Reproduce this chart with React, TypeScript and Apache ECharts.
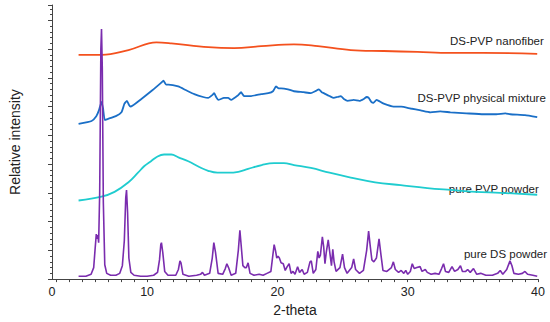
import React, { useEffect, useRef } from "react";
import * as echarts from "echarts";

// 2-theta (deg) and relative intensity (arbitrary units, offset per trace)
const nanofiber: [number, number][] = [
  [4.74, 234], [6.5, 234], [8.57, 239], [10.71, 247], [11.86, 246], [14.69, 242],
  [16.68, 241], [18.75, 243], [21.27, 245], [23.11, 243], [25.63, 239], [28.16, 238],
  [30.76, 237], [33.28, 236], [35.81, 236], [39.94, 235],
];

const physicalMixture: [number, number][] = [
  [4.74, 162], [5.74, 165], [6.1, 170], [6.3, 176], [6.5, 185], [6.62, 178], [6.75, 166],
  [6.96, 167], [7.6, 170], [8.03, 174], [8.26, 183], [8.45, 186], [8.6, 182], [8.72, 180],
  [9.56, 188], [10.4, 197], [11.09, 205], [11.25, 207], [11.45, 203], [11.63, 203],
  [12.39, 201], [13.0, 197], [13.62, 193], [14.3, 190], [14.69, 189], [15.0, 192],
  [15.15, 194], [15.3, 190], [15.46, 187], [15.9, 189], [16.22, 189], [16.45, 187],
  [17.0, 192], [17.21, 195], [17.44, 191], [17.98, 191], [18.75, 193], [19.3, 194],
  [19.66, 196], [19.89, 201], [20.1, 199], [20.28, 199], [20.81, 198], [21.27, 196],
  [22.0, 195], [22.57, 194], [22.9, 196], [23.18, 198], [23.4, 195], [23.56, 194],
  [24.0, 191], [24.33, 189], [24.6, 190], [24.87, 191], [25.1, 188], [25.4, 186],
  [25.86, 187], [26.3, 186], [26.63, 188], [26.85, 190], [27.01, 189], [27.2, 185],
  [27.39, 184], [27.6, 187], [27.77, 186], [28.16, 183], [28.92, 180], [29.5, 180],
  [30.22, 178], [31.0, 176], [31.75, 174], [32.5, 175], [33.28, 174], [34.5, 173],
  [35.81, 172], [36.8, 172], [37.5, 173], [37.87, 172], [39.0, 171], [39.94, 169],
];

const pvpPowder: [number, number][] = [
  [4.74, 82], [6.5, 86], [7.5, 91], [8.57, 101], [9.3, 111], [9.79, 118], [10.3, 123],
  [10.8, 128], [11.3, 130], [11.86, 130], [12.4, 127], [13.16, 123], [14.0, 117],
  [14.69, 113], [15.4, 111], [16.22, 111], [17.0, 112], [17.75, 115], [18.8, 119],
  [19.74, 121], [20.5, 121], [21.27, 119], [22.57, 116], [24.0, 111], [25.63, 106],
  [27.5, 101], [29.46, 98], [31.5, 95], [33.28, 93], [35.2, 91], [37.11, 90], [39.94, 88],
];

const dsPowder: [number, number][] = [
  [4.74, 3], [5.3, 3], [5.7, 5], [5.9, 12], [6.0, 30], [6.1, 47], [6.17, 42], [6.22, 46],
  [6.28, 38], [6.36, 90], [6.45, 240], [6.5, 261], [6.56, 220], [6.64, 80], [6.75, 15],
  [6.9, 6], [7.2, 4], [7.6, 4], [7.9, 6], [8.1, 14], [8.25, 40], [8.36, 85], [8.42, 93],
  [8.5, 70], [8.6, 22], [8.75, 7], [9.0, 4], [9.5, 3], [10.0, 3], [10.5, 4], [10.8, 7],
  [10.95, 20], [11.05, 36], [11.1, 38], [11.2, 28], [11.35, 8], [11.6, 4], [12.2, 4],
  [12.4, 10], [12.52, 19], [12.6, 17], [12.75, 5], [13.2, 3], [13.8, 4], [14.1, 5],
  [14.25, 7], [14.4, 4], [14.8, 6], [15.0, 22], [15.12, 38], [15.25, 28], [15.45, 6],
  [15.8, 5], [16.0, 11], [16.12, 16], [16.25, 12], [16.45, 4], [16.8, 6], [17.0, 30],
  [17.12, 51], [17.22, 35], [17.35, 14], [17.5, 12], [17.62, 12], [17.75, 17], [17.9, 6],
  [18.2, 4], [18.6, 5], [18.9, 4], [19.2, 6], [19.5, 8], [19.65, 25], [19.75, 36],
  [19.85, 30], [19.95, 22], [20.05, 24], [20.15, 22], [20.28, 17], [20.45, 16], [20.6, 9],
  [20.75, 13], [20.9, 16], [21.05, 6], [21.2, 8], [21.35, 5], [21.55, 13], [21.7, 7],
  [21.9, 10], [22.05, 5], [22.3, 7], [22.5, 18], [22.6, 19], [22.75, 6], [22.95, 10],
  [23.1, 29], [23.2, 22], [23.3, 25], [23.45, 44], [23.55, 34], [23.65, 16], [23.75, 28],
  [23.9, 41], [24.0, 30], [24.15, 14], [24.25, 31], [24.35, 18], [24.5, 8], [24.8, 12],
  [25.0, 26], [25.15, 12], [25.35, 6], [25.7, 12], [25.85, 21], [26.0, 10], [26.3, 6],
  [26.6, 9], [26.85, 30], [27.0, 50], [27.12, 35], [27.25, 20], [27.4, 18], [27.6, 22],
  [27.8, 42], [27.95, 25], [28.1, 9], [28.4, 8], [28.75, 12], [28.9, 18], [29.05, 10],
  [29.3, 7], [29.5, 9], [29.7, 6], [29.85, 9], [30.0, 5], [30.2, 8], [30.35, 16],
  [30.5, 11], [30.7, 12], [30.95, 13], [31.1, 8], [31.35, 10], [31.5, 7], [31.8, 5],
  [32.1, 6], [32.4, 5], [32.6, 11], [32.75, 16], [32.9, 8], [33.15, 7], [33.4, 13],
  [33.6, 8], [33.85, 10], [34.05, 14], [34.2, 8], [34.45, 8], [34.6, 10], [34.8, 7],
  [35.05, 11], [35.3, 5], [35.6, 6], [36.0, 4], [36.5, 4], [36.9, 6], [37.1, 9],
  [37.3, 5], [37.6, 10], [37.85, 19], [38.0, 14], [38.15, 6], [38.5, 5], [38.8, 6],
  [39.0, 8], [39.2, 5], [39.6, 4], [39.94, 3],
];

const seriesNames = ["DS-PVP nanofiber", "DS-PVP physical mixture", "pure PVP powder", "pure DS powder"];
const seriesColors = ["#f4511e", "#1a6fc7", "#1fcccf", "#7a2cae"];

const xTickValues = [2.7, 10, 20, 30, 40];
const xTickLabels = ["0", "10", "20", "30", "40"];

const FONT = "'Liberation Sans', Arial, sans-serif";

export default function App() {
  const ref = useRef<HTMLDivElement>(null);
  useEffect(() => {
    if (!ref.current) return;
    const chart = echarts.init(ref.current, undefined, { renderer: "svg" });
    const minorX: number[] = [];
    for (let v = 3; v <= 40; v += 1) minorX.push(v);
    const datas = [nanofiber, physicalMixture, pvpPowder, dsPowder];
    chart.setOption({
      animation: false,
      backgroundColor: "#ffffff",
      grid: { left: 50, right: 12, top: 5, bottom: 31, containLabel: false },
      xAxis: {
        type: "value",
        min: 2.7,
        max: 40,
        name: "2-theta",
        nameLocation: "middle",
        nameGap: 21,
        nameTextStyle: { fontFamily: FONT, fontSize: 14, color: "#222" },
        axisLine: { show: true, lineStyle: { color: "#444", width: 1 } },
        axisTick: { show: true, length: 3, customValues: minorX, lineStyle: { color: "#444" } },
        axisLabel: {
          customValues: xTickValues,
          formatter: (v: number) => {
            const i = xTickValues.findIndex((t) => Math.abs(t - v) < 1e-6);
            return i >= 0 ? xTickLabels[i] : "";
          },
          fontFamily: FONT,
          fontSize: 12.5,
          color: "#222",
          margin: 6,
        },
        splitLine: { show: false },
      },
      yAxis: {
        type: "value",
        min: 0,
        max: 286,
        interval: 30,
        name: "Relative intensity",
        nameLocation: "middle",
        nameGap: 30,
        nameTextStyle: { fontFamily: FONT, fontSize: 14, color: "#222" },
        axisLine: { show: true, lineStyle: { color: "#444", width: 1 } },
        axisTick: { show: true, length: 4, lineStyle: { color: "#444" } },
        minorTick: { show: true, splitNumber: 5, length: 2, lineStyle: { color: "#444" } },
        axisLabel: { show: false },
        splitLine: { show: false },
      },
      series: datas.map((d, i) => ({
        type: "line",
        name: seriesNames[i],
        data: d,
        showSymbol: false,
        smooth: i === 0 || i === 2 ? 0.4 : i === 1 ? 0.15 : false,
        lineStyle: { color: seriesColors[i], width: i === 3 ? 1.6 : 1.8 },
        itemStyle: { color: seriesColors[i] },
        z: i === 3 ? 5 : 3,
      })),
      graphic: [
        { type: "text", right: 6, top: 35, style: { text: seriesNames[0], fontFamily: FONT, fontSize: 11.5, fill: "#222" } },
        { type: "text", right: 4, top: 92, style: { text: seriesNames[1], fontFamily: FONT, fontSize: 11.5, fill: "#222" } },
        { type: "text", right: 11, top: 183, style: { text: seriesNames[2], fontFamily: FONT, fontSize: 11.5, fill: "#222" } },
        { type: "text", right: 3, top: 248, style: { text: seriesNames[3], fontFamily: FONT, fontSize: 11.5, fill: "#222" } },
      ],
    });
    return () => chart.dispose();
  }, []);
  return <div ref={ref} style={{ position: "fixed", left: 0, top: 0, width: 550, height: 322 }} />;
}
